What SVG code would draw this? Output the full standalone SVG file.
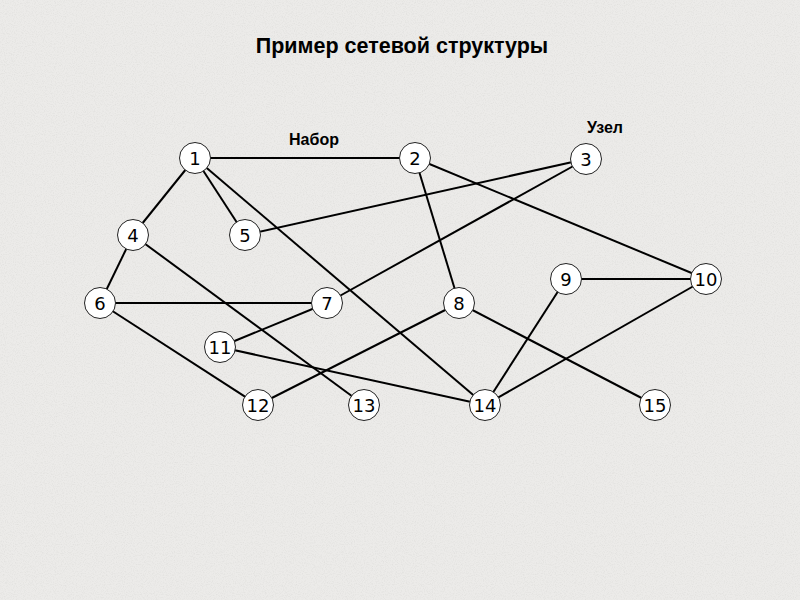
<svg xmlns="http://www.w3.org/2000/svg" width="800" height="600" viewBox="0 0 800 600">
<defs>
<filter id="noise" x="0" y="0" width="100%" height="100%">
<feTurbulence type="fractalNoise" baseFrequency="0.9" numOctaves="2" seed="3" result="t"/>
<feColorMatrix in="t" type="matrix" values="0 0 0 0 0.55  0 0 0 0 0.55  0 0 0 0 0.53  0 0 0 -1.6 0.9" result="n"/>
<feComposite in="n" in2="SourceGraphic" operator="in"/>
</filter>
<style>
.e{stroke:#000;stroke-width:2;fill:none}
.n circle{fill:#fff;stroke:#222;stroke-width:1}
.n text{font-family:"DejaVu Sans","Liberation Sans",sans-serif;font-size:18px;text-anchor:middle;fill:#000}
.lbl{font-family:"Liberation Sans",Arial,sans-serif;font-weight:bold;fill:#000}
</style>
</defs>
<rect width="800" height="600" fill="#ecebe9"/>
<rect width="800" height="600" fill="#fff" filter="url(#noise)" opacity="0.35"/>
<text class="lbl" x="402" y="53" font-size="21.5" text-anchor="middle">Пример сетевой структуры</text>
<text class="lbl" x="314" y="145" font-size="16" text-anchor="middle">Набор</text>
<text class="lbl" x="605" y="133" font-size="16" text-anchor="middle">Узел</text>
<g id="connectors">
<line class="e" x1="195" y1="158" x2="415" y2="158"/>
<line class="e" x1="195" y1="158" x2="133" y2="235"/>
<line class="e" x1="195" y1="158" x2="245" y2="235"/>
<line class="e" x1="195" y1="158" x2="485" y2="405"/>
<line class="e" x1="415" y1="158" x2="459" y2="303"/>
<line class="e" x1="415" y1="158" x2="706" y2="279"/>
<line class="e" x1="586" y1="159" x2="245" y2="235"/>
<line class="e" x1="586" y1="159" x2="327" y2="303"/>
<line class="e" x1="133" y1="235" x2="100" y2="303"/>
<line class="e" x1="133" y1="235" x2="364" y2="405"/>
<line class="e" x1="100" y1="303" x2="327" y2="303"/>
<line class="e" x1="100" y1="303" x2="258" y2="405"/>
<line class="e" x1="327" y1="303" x2="220" y2="347"/>
<line class="e" x1="220" y1="347" x2="485" y2="405"/>
<line class="e" x1="459" y1="303" x2="258" y2="405"/>
<line class="e" x1="459" y1="303" x2="655" y2="405"/>
<line class="e" x1="566" y1="279" x2="706" y2="279"/>
<line class="e" x1="566" y1="279" x2="485" y2="405"/>
<line class="e" x1="706" y1="279" x2="485" y2="405"/>
</g>
<g id="n1" class="n"><circle cx="195" cy="158" r="15.5"/><text x="195" y="164.5">1</text></g>
<g id="n2" class="n"><circle cx="415" cy="158" r="15.5"/><text x="415" y="164.5">2</text></g>
<g id="n3" class="n"><circle cx="586" cy="159" r="15.5"/><text x="586" y="165.5">3</text></g>
<g id="n4" class="n"><circle cx="133" cy="235" r="15.5"/><text x="133" y="241.5">4</text></g>
<g id="n5" class="n"><circle cx="245" cy="235" r="15.5"/><text x="245" y="241.5">5</text></g>
<g id="n6" class="n"><circle cx="100" cy="303" r="15.5"/><text x="100" y="309.5">6</text></g>
<g id="n7" class="n"><circle cx="327" cy="303" r="15.5"/><text x="327" y="309.5">7</text></g>
<g id="n8" class="n"><circle cx="459" cy="303" r="15.5"/><text x="459" y="309.5">8</text></g>
<g id="n9" class="n"><circle cx="566" cy="279" r="15.5"/><text x="566" y="285.5">9</text></g>
<g id="n10" class="n"><circle cx="706" cy="279" r="15.5"/><text x="706" y="285.5">10</text></g>
<g id="n11" class="n"><circle cx="220" cy="347" r="15.5"/><text x="220" y="353.5">11</text></g>
<g id="n12" class="n"><circle cx="258" cy="405" r="15.5"/><text x="258" y="411.5">12</text></g>
<g id="n13" class="n"><circle cx="364" cy="405" r="15.5"/><text x="364" y="411.5">13</text></g>
<g id="n14" class="n"><circle cx="485" cy="405" r="15.5"/><text x="485" y="411.5">14</text></g>
<g id="n15" class="n"><circle cx="655" cy="405" r="15.5"/><text x="655" y="411.5">15</text></g>
</svg>
